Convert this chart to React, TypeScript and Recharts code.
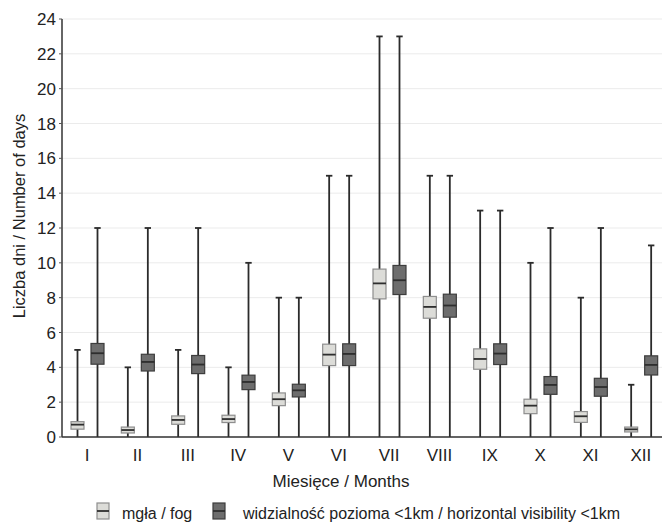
import React from 'react';
import { ComposedChart, Bar, XAxis, YAxis, CartesianGrid, Label } from 'recharts';

const months = ['I', 'II', 'III', 'IV', 'V', 'VI', 'VII', 'VIII', 'IX', 'X', 'XI', 'XII'];

// mgła / fog
const fogMin = [0, 0, 0, 0, 0, 0, 0, 0, 0, 0, 0, 0];
const fogQ1 = [0.45, 0.23, 0.73, 0.83, 1.8, 4.1, 7.93, 6.82, 3.89, 1.34, 0.84, 0.29];
const fogMed = [0.71, 0.4, 0.98, 1.03, 2.17, 4.73, 8.82, 7.47, 4.48, 1.8, 1.19, 0.44];
const fogQ3 = [0.88, 0.57, 1.21, 1.25, 2.53, 5.33, 9.64, 8.07, 5.06, 2.17, 1.46, 0.57];
const fogMax = [5, 4, 5, 4, 8, 15, 23, 15, 13, 10, 8, 3];

// widzialność pozioma <1km / horizontal visibility <1km
const visMin = [0, 0, 0, 0, 0, 0, 0, 0, 0, 0, 0, 0];
const visQ1 = [4.18, 3.79, 3.64, 2.72, 2.3, 4.1, 8.18, 6.88, 4.16, 2.45, 2.34, 3.56];
const visMed = [4.81, 4.31, 4.16, 3.16, 2.68, 4.77, 9.0, 7.55, 4.79, 2.99, 2.87, 4.14];
const visQ3 = [5.37, 4.75, 4.68, 3.55, 3.03, 5.35, 9.85, 8.2, 5.35, 3.47, 3.37, 4.66];
const visMax = [12, 12, 12, 10, 8, 15, 23, 15, 13, 12, 12, 11];

const yTicks = [0, 2, 4, 6, 8, 10, 12, 14, 16, 18, 20, 22, 24];

const FONT = '"Liberation Sans", Arial, sans-serif';

const data = months.map((m, i) => ({
  m,
  fog: [fogMin[i], fogMax[i]],
  fogMin: fogMin[i],
  fogQ1: fogQ1[i],
  fogMed: fogMed[i],
  fogQ3: fogQ3[i],
  fogMax: fogMax[i],
  vis: [visMin[i], visMax[i]],
  visMin: visMin[i],
  visQ1: visQ1[i],
  visMed: visMed[i],
  visQ3: visQ3[i],
  visMax: visMax[i],
}));

const makeBox = (prefix: string, fill: string, stroke: string) => (props: any) => {
  const { x, y, width, height, payload } = props;
  if (payload == null) return <g />;
  const top = Math.min(y, y + height);
  const bottom = Math.max(y, y + height);
  const max = payload[prefix + 'Max'];
  const min = payload[prefix + 'Min'];
  const toY = (v: number) => bottom - ((bottom - top) * (v - min)) / (max - min);
  const cx = x + width / 2;
  const q1 = toY(payload[prefix + 'Q1']);
  const q3 = toY(payload[prefix + 'Q3']);
  const med = toY(payload[prefix + 'Med']);
  const yMax = toY(max);
  const yMin = toY(min);
  return (
    <g>
      <line x1={cx} x2={cx} y1={yMax} y2={yMin} stroke="#2b2b2b" strokeWidth={1.8} />
      <line x1={cx - 3.2} x2={cx + 3.2} y1={yMax} y2={yMax} stroke="#2b2b2b" strokeWidth={1.8} />
      <rect x={x} y={q3} width={width} height={q1 - q3} fill={fill} stroke={stroke} strokeWidth={1.2} />
      <line x1={x} x2={x + width} y1={med} y2={med} stroke="#2e2e2e" strokeWidth={1.8} />
    </g>
  );
};

const FogBox = makeBox('fog', '#dcdcd8', '#8e8e8e');
const VisBox = makeBox('vis', '#6d6d6d', '#3d3d3d');

const EmptyTick = () => <g />;

export default function App() {
  return (
    <div
      style={{
        position: 'absolute',
        left: 0,
        top: 0,
        width: 662,
        height: 524,
        overflow: 'hidden',
        background: '#ffffff',
      }}
    >
      <ComposedChart
        width={680}
        height={524}
        data={data}
        margin={{ top: 19, right: 14, left: 12, bottom: 57 }}
        barGap={7}
        barSize={13}
        style={{ fontFamily: FONT }}
      >
        <CartesianGrid vertical={false} stroke="#ebebeb" strokeWidth={1} />
        <XAxis
          xAxisId="top"
          dataKey="m"
          orientation="top"
          mirror
          height={0}
          tickSize={3}
          tick={EmptyTick}
          axisLine={{ stroke: '#555555', strokeWidth: 1.5 }}
          tickLine={{ stroke: '#333333', strokeWidth: 1.5 }}
        />
        <XAxis
          xAxisId="bot"
          dataKey="m"
          orientation="bottom"
          mirror
          height={0}
          tickSize={2}
          tick={EmptyTick}
          axisLine={false}
          tickLine={{ stroke: '#444444', strokeWidth: 1.2 }}
        />
        <XAxis
          dataKey="m"
          height={30}
          tickLine={false}
          tickSize={0}
          tickMargin={12}
          axisLine={{ stroke: '#333333', strokeWidth: 1.5 }}
          tick={{ fontSize: 17, fill: '#222222', fontFamily: FONT }}
          interval={0}
        >
          <Label
            content={() => (
              <text x={341} y={487} textAnchor="middle" fontSize={17} fill="#222222" fontFamily={FONT}>
                Miesięce / Months
              </text>
            )}
          />
        </XAxis>
        <YAxis
          type="number"
          domain={[0, 24]}
          ticks={yTicks}
          interval={0}
          width={50}
          tickSize={3}
          tickMargin={3}
          axisLine={{ stroke: '#333333', strokeWidth: 1.5 }}
          tickLine={{ stroke: '#555555', strokeWidth: 1 }}
          tick={{ fontSize: 17, fill: '#222222', fontFamily: FONT }}
        >
          <Label
            content={() => (
              <text
                x={25}
                y={216}
                transform="rotate(-90 25 216)"
                textAnchor="middle"
                fontSize={16.5}
                fill="#222222"
                fontFamily={FONT}
              >
                Liczba dni / Number of days
              </text>
            )}
          />
        </YAxis>
        <Bar dataKey="fog" shape={FogBox} isAnimationActive={false} name="mgła / fog" />
        <Bar
          dataKey="vis"
          shape={VisBox}
          isAnimationActive={false}
          name="widzialność pozioma <1km / horizontal visibility <1km"
        />
      </ComposedChart>
      <svg
        width={662}
        height={524}
        style={{ position: 'absolute', left: 0, top: 0, pointerEvents: 'none' }}
      >
        <rect x={97} y={503} width={12} height={16} fill="#dcdcd8" stroke="#8e8e8e" strokeWidth={1.2} />
        <line x1={97} x2={109} y1={511} y2={511} stroke="#2e2e2e" strokeWidth={1.8} />
        <text x={122} y={519} fontSize={16} fill="#222222" fontFamily={FONT}>
          mgła / fog
        </text>
        <rect x={213} y={503} width={12} height={16} fill="#6d6d6d" stroke="#3d3d3d" strokeWidth={1.2} />
        <line x1={213} x2={225} y1={511} y2={511} stroke="#2e2e2e" strokeWidth={1.8} />
        <text x={243} y={519} fontSize={16} fill="#222222" fontFamily={FONT}>
          widzialność pozioma &lt;1km / horizontal visibility &lt;1km
        </text>
      </svg>
    </div>
  );
}
